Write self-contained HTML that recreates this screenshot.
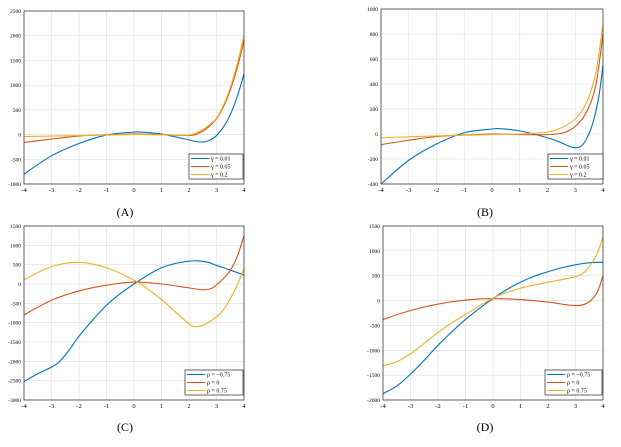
<!DOCTYPE html>
<html><head><meta charset="utf-8"><style>
body{margin:0;background:#fff;width:621px;height:442px;overflow:hidden}
text{font-family:"Liberation Serif",serif}
</style></head><body>
<svg id="s" width="621" height="442" xmlns="http://www.w3.org/2000/svg"></svg>
<script>
const C=['#0072BD','#D95319','#EDB120'];
const P=[
{x0:24,x1:244,y0:11,y1:184,ymin:-1000,ymax:2500,step:500,lab:'(A)',lx:125,ly:216,
 leg:[189,154,243,179],names:['γ = 0.01','γ = 0.05','γ = 0.2'],
 d:[[[-4,-800],[-3,-430],[-2,-180],[-1,-10],[0,50],[0.5,40],[1,10],[1.5,-45],[2,-110],[2.3,-145],[2.55,-150],[2.8,-100],[3,-20],[3.25,150],[3.5,400],[3.75,760],[4,1230]],
    [[-4,-160],[-3,-90],[-2,-30],[-1,-5],[0,10],[1,0],[1.6,-15],[2,-20],[2.2,-5],[2.4,40],[2.7,150],[3,320],[3.25,560],[3.5,900],[3.75,1340],[4,1900]],
    [[-4,-40],[-2,-20],[0,0],[1.5,-10],[2,-10],[2.2,20],[2.5,100],[2.75,200],[3,330],[3.25,590],[3.5,950],[3.75,1420],[4,2000]]]},
{x0:381,x1:603,y0:9,y1:184,ymin:-400,ymax:1000,step:200,lab:'(B)',lx:485,ly:216,
 leg:[548,154,603,179],names:['γ = 0.01','γ = 0.05','γ = 0.2'],
 d:[[[-4,-400],[-3,-210],[-2,-80],[-1,10],[0,40],[0.3,42],[1,25],[2,-30],[2.5,-70],[2.8,-100],[3.05,-110],[3.25,-90],[3.45,-20],[3.65,100],[3.85,300],[4,550]],
    [[-4,-85],[-3,-50],[-2,-20],[-1,-8],[0,0],[1,-5],[2,-5],[2.5,5],[2.75,25],[3,60],[3.25,120],[3.5,220],[3.75,400],[4,800]],
    [[-4,-30],[-2,-15],[0,-5],[1,0],[2,15],[2.5,50],[3,120],[3.25,190],[3.5,300],[3.75,500],[4,880]]]},
{x0:24,x1:244,y0:226,y1:400,ymin:-3000,ymax:1500,step:500,lab:'(C)',lx:125,ly:431,
 leg:[185,370,243,395],names:['ρ = −0.75','ρ = 0','ρ = 0.75'],
 d:[[[-4,-2520],[-3.5,-2320],[-3,-2150],[-2.7,-2000],[-2.35,-1700],[-2,-1350],[-1.5,-930],[-1,-550],[-0.5,-250],[0,0],[0.5,230],[1,420],[1.5,530],[2,590],[2.3,600],[2.7,560],[3,480],[3.5,360],[4,230]],
    [[-4,-800],[-3,-420],[-2,-180],[-1,-30],[0,50],[1,0],[2,-100],[2.5,-150],[2.8,-120],[3,-20],[3.25,140],[3.5,350],[3.75,700],[4,1250]],
    [[-4,110],[-3,450],[-2,560],[-1,420],[0,100],[0.5,-130],[1,-400],[1.5,-720],[2,-1030],[2.2,-1100],[2.5,-1070],[3,-850],[3.3,-620],[3.6,-250],[3.8,50],[4,400]]]},
{x0:383,x1:603,y0:226,y1:400,ymin:-2000,ymax:1500,step:500,lab:'(D)',lx:485,ly:431,
 leg:[545,370,602,395],names:['ρ = −0.75','ρ = 0','ρ = 0.75'],
 d:[[[-4,-1870],[-3.5,-1720],[-3,-1480],[-2.5,-1200],[-2,-900],[-1.5,-630],[-1,-380],[-0.5,-160],[0,40],[0.5,220],[1,370],[1.5,490],[2,580],[2.5,660],[3,720],[3.5,760],[4,770]],
    [[-4,-380],[-3,-200],[-2,-70],[-1,10],[0,40],[1,20],[2,-30],[2.6,-80],[3,-100],[3.3,-80],[3.55,0],[3.8,180],[4,500]],
    [[-4,-1310],[-3.5,-1230],[-3,-1070],[-2.5,-860],[-2,-640],[-1.5,-450],[-1,-280],[-0.5,-110],[0,50],[0.5,160],[1,250],[2,370],[2.5,420],[3,480],[3.3,560],[3.55,720],[3.8,960],[4,1280]]]}
];
let h='';
for(const p of P){
 const X=v=>p.x0+(v+4)/8*(p.x1-p.x0), Y=v=>p.y1-(v-p.ymin)/(p.ymax-p.ymin)*(p.y1-p.y0);
 for(let i=-4;i<=4;i++){const x=X(i);h+=`<line x1="${x}" y1="${p.y0}" x2="${x}" y2="${p.y1}" stroke="#dcdcdc" stroke-width="0.6"/>`;
  h+=`<text x="${x}" y="${p.y1+8}" font-size="6.5" text-anchor="middle">${i}</text>`;}
 for(let v=p.ymin;v<=p.ymax;v+=p.step){const y=Y(v);h+=`<line x1="${p.x0}" y1="${y}" x2="${p.x1}" y2="${y}" stroke="#dcdcdc" stroke-width="0.6"/>`;
  h+=`<text x="${p.x0-3}" y="${y+2}" font-size="5.5" text-anchor="end">${v}</text>`;}
 p.d.forEach((pts,k)=>{
  const q=pts.map(a=>[X(a[0]),Y(a[1])]);let s=`M${q[0][0]},${q[0][1]}`;
  for(let i=0;i<q.length-1;i++){const a=q[Math.max(0,i-1)],b=q[i],c=q[i+1],d=q[Math.min(q.length-1,i+2)];
   s+=`C${b[0]+(c[0]-a[0])/6},${b[1]+(c[1]-a[1])/6} ${c[0]-(d[0]-b[0])/6},${c[1]-(d[1]-b[1])/6} ${c[0]},${c[1]}`;}
  h+=`<path d="${s}" fill="none" stroke="${C[k]}" stroke-width="1.1"/>`;});
 h+=`<rect x="${p.x0}" y="${p.y0}" width="${p.x1-p.x0}" height="${p.y1-p.y0}" fill="none" stroke="#262626" stroke-width="0.7"/>`;
 const [a,b,c,d]=p.leg;
 h+=`<rect x="${a}" y="${b}" width="${c-a}" height="${d-b}" fill="#fff" stroke="#262626" stroke-width="0.7"/>`;
 for(let k=0;k<3;k++){const y=b+4.5+k*8;h+=`<line x1="${a+2}" y1="${y}" x2="${a+20}" y2="${y}" stroke="${C[k]}" stroke-width="1.1"/>`;
  h+=`<text x="${a+22}" y="${y+2}" font-size="6">${p.names[k]}</text>`;}
 h+=`<text x="${p.lx}" y="${p.ly}" font-size="12" text-anchor="middle">${p.lab}</text>`;
}
document.getElementById('s').innerHTML=h;
</script>
</body></html>
